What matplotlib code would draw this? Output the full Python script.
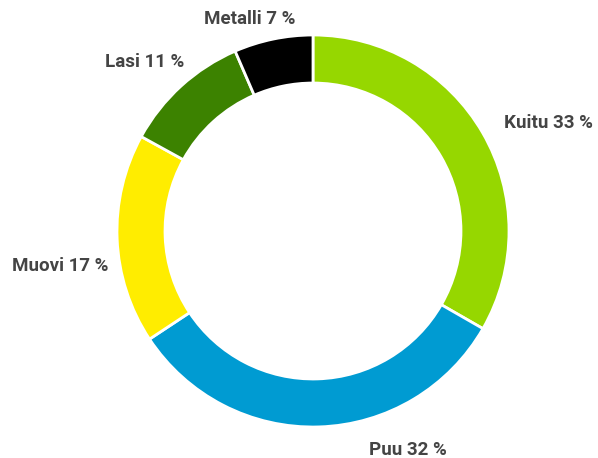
import matplotlib
matplotlib.use("Agg")
import matplotlib.pyplot as plt

categories = ["Kuitu", "Puu", "Muovi", "Lasi", "Metalli"]
values = [33.3, 32.4, 17.3, 10.5, 6.5]
label_pct = [33, 32, 17, 11, 7]
colors = ["#96d700", "#009bd2", "#ffed00", "#3c8200", "#000000"]
labels = [f"{c} {v} %" for c, v in zip(categories, label_pct)]

# label centre positions in pixel coordinates (x, y from top)
label_pos = [(548, 123), (408, 450), (60, 266), (145, 62), (250, 19)]

W, H = 598, 458
fig = plt.figure(figsize=(W / 100, H / 100), dpi=100)
ax = fig.add_axes([0, 0, 1, 1])
cx, cy, R = 313, 231, 196
ax.pie(values, colors=colors, startangle=90, counterclock=False,
       radius=R, center=(cx, H - cy),
       wedgeprops=dict(width=R * 0.245, edgecolor="white", linewidth=2))
for lab, (x, y) in zip(labels, label_pos):
    ax.text(x, H - y, lab, ha="center", va="center", fontsize=13.5,
            fontweight="bold", color="#444444", family="Roboto")
ax.set_xlim(0, W)
ax.set_ylim(0, H)
ax.set_aspect("equal")
ax.axis("off")
fig.savefig("out.png", dpi=100)
